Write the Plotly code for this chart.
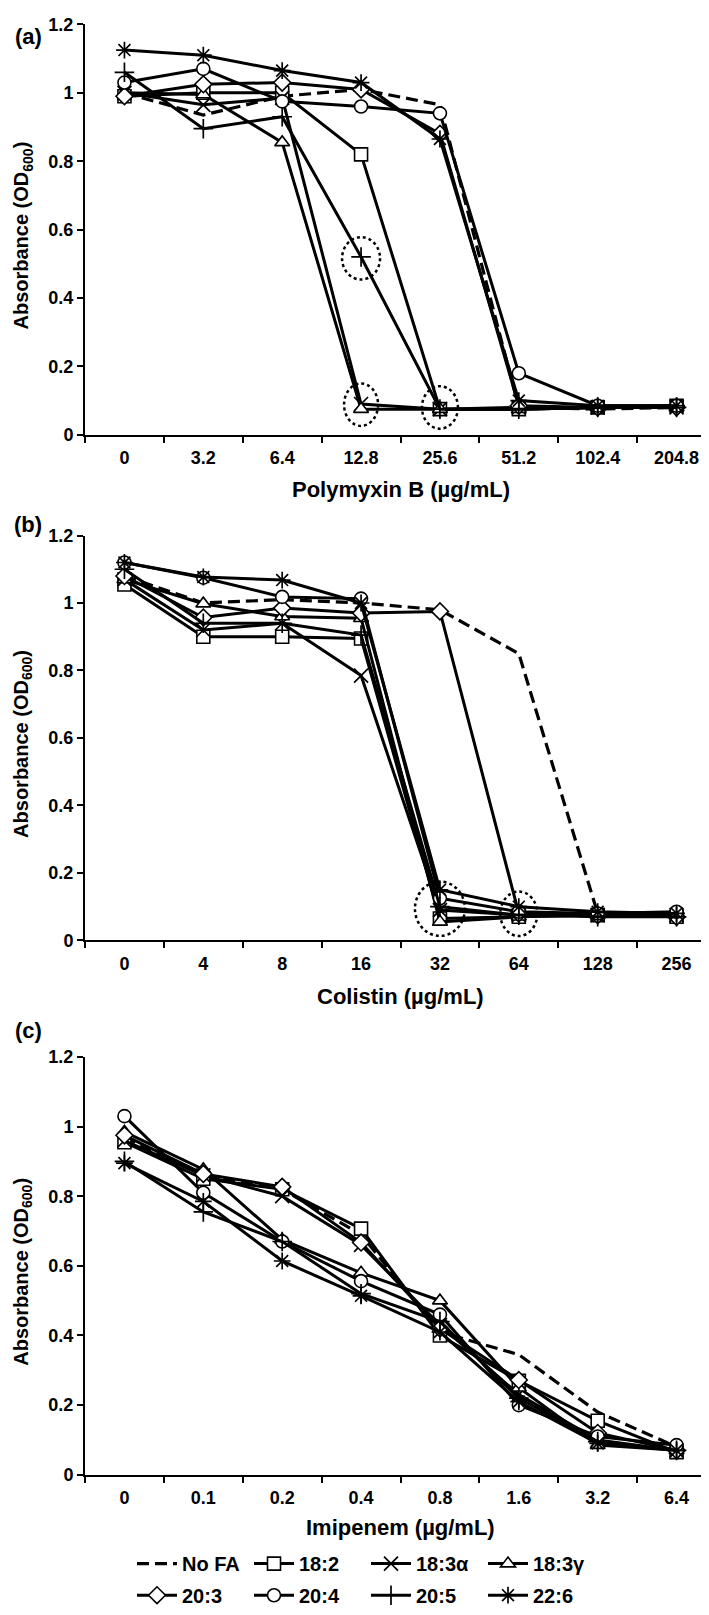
import plotly.graph_objects as go

# categories (antibiotic concentrations, µg/mL)
pmb_doses = ["0", "3.2", "6.4", "12.8", "25.6", "51.2", "102.4", "204.8"]
col_doses = ["0", "4", "8", "16", "32", "64", "128", "256"]
imi_doses = ["0", "0.1", "0.2", "0.4", "0.8", "1.6", "3.2", "6.4"]

series = ["No FA", "18:2", "18:3α", "18:3γ", "20:3", "20:4", "20:5", "22:6"]

# (a) Polymyxin B, OD600
pmb_nofa = [1.00, 0.935, 0.99, 1.01, 0.965, 0.08, 0.075, 0.08]
pmb_182 = [0.99, 1.00, 1.00, 0.82, 0.075, 0.075, 0.08, 0.085]
pmb_183a = [1.00, 0.965, 0.985, 0.09, 0.075, 0.08, 0.08, 0.08]
pmb_183g = [1.00, 0.995, 0.855, 0.075, 0.075, 0.075, 0.08, 0.08]
pmb_203 = [0.99, 1.025, 1.03, 1.01, 0.88, 0.085, 0.08, 0.08]
pmb_204 = [1.03, 1.07, 0.975, 0.96, 0.94, 0.18, 0.085, 0.085]
pmb_205 = [1.06, 0.895, 0.93, 0.52, 0.075, 0.075, 0.08, 0.08]
pmb_226 = [1.125, 1.11, 1.065, 1.03, 0.865, 0.10, 0.085, 0.085]

# (b) Colistin, OD600
col_nofa = [1.08, 1.00, 1.01, 1.00, 0.98, 0.85, 0.08, 0.08]
col_182 = [1.055, 0.90, 0.90, 0.895, 0.065, 0.07, 0.075, 0.07]
col_183a = [1.07, 0.92, 0.94, 0.785, 0.09, 0.075, 0.075, 0.075]
col_183g = [1.07, 0.998, 0.96, 0.955, 0.055, 0.07, 0.075, 0.075]
col_203 = [1.08, 0.957, 0.985, 0.97, 0.975, 0.08, 0.075, 0.07]
col_204 = [1.12, 1.075, 1.018, 1.013, 0.125, 0.085, 0.08, 0.085]
col_205 = [1.10, 0.94, 0.94, 0.905, 0.10, 0.075, 0.07, 0.07]
col_226 = [1.12, 1.077, 1.068, 1.00, 0.15, 0.10, 0.085, 0.08]

# (c) Imipenem, OD600
imi_nofa = [0.97, 0.86, 0.82, 0.69, 0.41, 0.345, 0.18, 0.08]
imi_182 = [0.955, 0.85, 0.82, 0.707, 0.40, 0.27, 0.155, 0.065]
imi_183a = [0.96, 0.86, 0.80, 0.66, 0.43, 0.23, 0.10, 0.07]
imi_183g = [0.985, 0.877, 0.675, 0.58, 0.50, 0.25, 0.085, 0.07]
imi_203 = [0.975, 0.864, 0.827, 0.667, 0.42, 0.272, 0.12, 0.07]
imi_204 = [1.03, 0.81, 0.67, 0.556, 0.46, 0.20, 0.11, 0.085]
imi_205 = [0.90, 0.755, 0.67, 0.52, 0.44, 0.22, 0.095, 0.07]
imi_226 = [0.895, 0.785, 0.614, 0.514, 0.41, 0.21, 0.09, 0.07]

panels = [
    (pmb_doses, [pmb_nofa, pmb_182, pmb_183a, pmb_183g, pmb_203, pmb_204, pmb_205, pmb_226]),
    (col_doses, [col_nofa, col_182, col_183a, col_183g, col_203, col_204, col_205, col_226]),
    (imi_doses, [imi_nofa, imi_182, imi_183a, imi_183g, imi_203, imi_204, imi_205, imi_226]),
]

symbols = [None, "square", "x-thin-open", "triangle-up", "diamond", "circle",
           "cross-thin-open", "asterisk-open"]

W, H = 709, 1615
L, R = 77, 1
FONT = "Liberation Sans, Arial, sans-serif"


def px_x(x):
    return (x - L) / (W - L - R)


def px_y(y):
    return 1 - y / H


fig = go.Figure()

for p, (doses, values) in enumerate(panels):
    sfx = "" if p == 0 else str(p + 1)
    pos = list(range(len(doses)))
    for i, name in enumerate(series):
        sym = symbols[i]
        if sym is None:
            mode = "lines"
            marker = None
            line = dict(color="black", width=3.2, dash="12px,6px")
        else:
            mode = "lines+markers"
            thin = sym.endswith("-open")
            marker = dict(symbol=sym, size=14 if thin else 13,
                          color="black" if thin else "white",
                          line=dict(color="black", width=1.7 if thin else 1.6))
            line = dict(color="black", width=3)
        fig.add_trace(go.Scatter(
            x=pos, y=values[i], name=name, mode=mode, marker=marker, line=line,
            xaxis="x" + sfx, yaxis="y" + sfx,
            showlegend=(p == 0),
            legend="legend" if i < 4 else "legend2",
        ))

# panel geometry in pixels: (top of 1.2, bottom at 0)
panel_px = [(6.5, 422), (524, 934), (1052, 1475)]
xtitles = ["Polymyxin B (µg/mL)", "Colistin (µg/mL)", "Imipenem (µg/mL)"]
xtitle_y = [477, 991, 1528]
labels = ["(a)", "(b)", "(c)"]
label_y = [19, 513, 1025]

layout = dict(
    width=W, height=H,
    margin=dict(l=L, r=R, t=0, b=0),
    paper_bgcolor="white", plot_bgcolor="white",
    font=dict(family=FONT, color="black"),
    showlegend=True,
)

annotations = []
for p, (doses, _) in enumerate(panels):
    sfx = "" if p == 0 else str(p + 1)
    top, bot = panel_px[p]
    n = len(doses)
    layout["xaxis" + sfx] = dict(
        range=[-0.5, n - 0.5], tickvals=list(range(n)), ticktext=doses,
        ticks="", showline=True, linewidth=2, linecolor="black",
        showgrid=False, zeroline=False,
        minor=dict(tickvals=[k - 0.5 for k in range(n + 1)], ticks="outside",
                   ticklen=6, tickwidth=1.5, tickcolor="black", showgrid=False),
        anchor="y" + sfx, domain=[0, 1],
        tickfont=dict(size=18, weight="bold", family=FONT),
        ticklabelstandoff=6,
    )
    layout["yaxis" + sfx] = dict(
        range=[0, 1.2], dtick=0.2, ticks="outside", ticklen=6, tickwidth=1.5,
        tickcolor="black", showline=True, linewidth=2, linecolor="black",
        showgrid=False, zeroline=False, anchor="x" + sfx,
        domain=[px_y(bot), px_y(top)],
        tickfont=dict(size=18, weight="bold", family=FONT),
    )
    annotations.append(dict(
        text="Absorbance (OD<sub>600</sub>)", textangle=-90, showarrow=False,
        xref="paper", yref="paper", x=px_x(15), y=px_y((top + bot) / 2 + 6),
        xanchor="center", yanchor="middle",
        font=dict(size=20, weight="bold", family=FONT),
    ))
    annotations.append(dict(
        text=xtitles[p], showarrow=False, xref="paper", yref="paper",
        x=0.5, y=px_y(xtitle_y[p]), xanchor="center", yanchor="middle",
        font=dict(size=22, weight="bold", family=FONT),
    ))
    annotations.append(dict(
        text=labels[p], showarrow=False, xref="paper", yref="paper",
        x=px_x(20), y=px_y(label_y[p]), xanchor="center", yanchor="middle",
        font=dict(size=22, weight="bold", family=FONT),
    ))

layout["annotations"] = annotations

# dotted circles marking MIC points: (panel, category index, value, width px, height px)
circles = [
    (0, 3, 0.516, 38, 43),
    (0, 3, 0.088, 34, 43),
    (0, 4, 0.08, 36, 43),
    (1, 4, 0.094, 50, 55),
    (1, 5, 0.079, 37, 45),
]
shapes = []
for p, idx, val, w, h in circles:
    sfx = "" if p == 0 else str(p + 1)
    top, bot = panel_px[p]
    per_unit = (bot - top) / 1.2
    per_slot = (W - L - R) / 8
    dx = w / 2 / per_slot
    dy = h / 2 / per_unit
    shapes.append(dict(
        type="circle", xref="x" + sfx, yref="y" + sfx,
        x0=idx - dx, x1=idx + dx, y0=val - dy, y1=val + dy,
        line=dict(color="black", width=2.5, dash="dot"),
    ))
layout["shapes"] = shapes

legend_style = dict(
    orientation="h", xanchor="left", yanchor="middle",
    entrywidth=62, entrywidthmode="pixels", itemwidth=40,
    font=dict(size=20, weight="bold", family=FONT),
    bgcolor="rgba(0,0,0,0)",
)
layout["legend"] = dict(legend_style, x=px_x(124), y=px_y(1565))
layout["legend2"] = dict(legend_style, x=px_x(124), y=px_y(1597))

fig.update_layout(**layout)
fig.write_html("out.html")
